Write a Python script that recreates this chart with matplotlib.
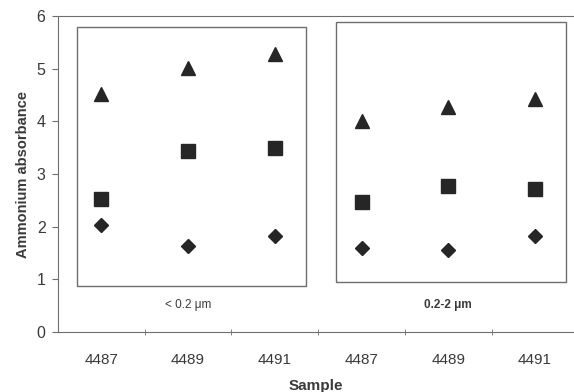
import matplotlib.pyplot as plt
from matplotlib.patches import Rectangle

samples = ["4487", "4489", "4491", "4487", "4489", "4491"]
fractions = ["< 0.2 \u03bcm", "0.2-2 \u03bcm"]

triangles = [4.52, 5.02, 5.27, 4.00, 4.27, 4.43]
squares = [2.52, 3.43, 3.49, 2.46, 2.78, 2.71]
diamonds = [2.04, 1.64, 1.83, 1.60, 1.56, 1.83]

plt.rcParams["font.family"] = ["Liberation Sans", "DejaVu Sans"]
txt = "#3a3a3a"
edge = "#6e6e6e"

fig = plt.figure(figsize=(5.74, 3.92), dpi=100)
ax = fig.add_axes([58 / 574, 60 / 392, 516 / 574, 316 / 392])

x = list(range(len(samples)))
mk = dict(color="#262626", linestyle="none", zorder=3)
ax.plot(x, triangles, marker="^", markersize=10.5, **mk)
ax.plot(x, squares, marker="s", markersize=9.5, **mk)
ax.plot(x, diamonds, marker="D", markersize=7, **mk)

# boxes around each size fraction
ax.add_patch(Rectangle((-0.28, 0.88), 2.64, 4.92, fill=False, edgecolor=edge, lw=1.0))
ax.add_patch(Rectangle((2.71, 0.94), 2.65, 4.94, fill=False, edgecolor=edge, lw=1.0))
ax.text(1.0, 0.52, fractions[0], ha="center", va="center", fontsize=8.5, color=txt)
ax.text(4.0, 0.52, fractions[1], ha="center", va="center", fontsize=8.5, color=txt, fontweight="bold")

ax.set_xlim(-0.5, 5.45)
ax.set_ylim(0, 6)
ax.set_yticks(range(7))
ax.set_xticks(x)
ax.set_xticklabels(samples)
ax.set_xticks([0.5, 1.5, 2.5, 3.5, 4.5], minor=True)
ax.tick_params(axis="x", which="major", length=0, pad=15, labelsize=11, labelcolor=txt)
ax.tick_params(axis="x", which="minor", length=4, direction="inout", color=edge)
ax.tick_params(axis="y", length=4, color=edge, labelsize=11.5, labelcolor=txt, pad=5)

for s in ["left", "bottom", "top"]:
    ax.spines[s].set_color(edge)
ax.spines["right"].set_visible(False)

ax.set_ylabel("Ammonium absorbance", fontsize=10.5, fontweight="bold", color=txt, labelpad=5)
ax.set_xlabel("Sample", fontsize=11, fontweight="bold", color=txt, labelpad=9)

fig.savefig("out.png", dpi=100)
